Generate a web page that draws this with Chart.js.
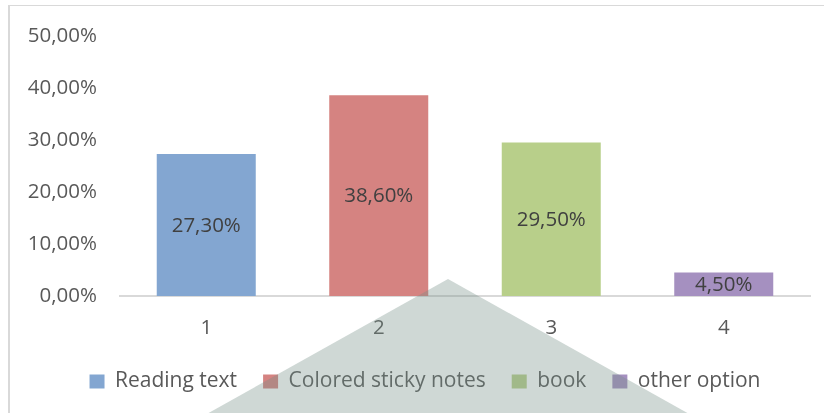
<!DOCTYPE html>
<html>
<head>
<meta charset="utf-8">
<script src="https://cdn.jsdelivr.net/npm/chart.js@4.4.1/dist/chart.umd.min.js"></script>
<style>
  html, body { margin: 0; padding: 0; background: #fff; overflow: hidden; }
  #wrap { position: relative; width: 824px; height: 413px; }
  #frame { position: absolute; left: 8px; top: 5px; width: 830px; height: 420px;
           border-left: 2px solid #d9d9d9; border-top: 1px solid #d9d9d9; box-sizing: border-box; }
  canvas { position: absolute; left: 0; top: 0; }
  #overlay { position: absolute; left: 0; top: 0; pointer-events: none; }
</style>
</head>
<body>
<div id="wrap">
  <div id="frame"></div>
  <canvas id="c" width="824" height="413"></canvas>
  <svg id="overlay" width="824" height="413"><polygon points="448,279 205,415 691,415" fill="rgba(118,144,135,0.35)"/></svg>
</div>
<script>
const categories = ['1', '2', '3', '4'];
const seriesNames = ['Reading text', 'Colored sticky notes', 'book', 'other option'];
const readingText = [27.3, null, null, null];
const stickyNotes = [null, 38.6, null, null];
const book = [null, null, 29.5, null];
const otherOption = [null, null, null, 4.5];
const yTicks = [0, 10, 20, 30, 40, 50];
const colors = ['#83a6d1', '#d58381', '#b8cf8a', '#a590c0'];

const fmt = v => v.toFixed(2).replace('.', ',') + '%';
const FONT = "'Open Sans', sans-serif";

const labelPlugin = {
  id: 'barLabels',
  afterDatasetsDraw(chart) {
    const ctx = chart.ctx;
    ctx.save();
    ctx.font = '20.5px ' + FONT;
    ctx.fillStyle = '#404040';
    ctx.textAlign = 'center';
    ctx.textBaseline = 'middle';
    chart.data.datasets.forEach((ds, i) => {
      const meta = chart.getDatasetMeta(i);
      meta.data.forEach((bar, j) => {
        const v = ds.data[j];
        if (v === null || v === undefined) return;
        const y = (bar.y + bar.base) / 2;
        ctx.fillText(fmt(v), bar.x, y + 1);
      });
    });
    ctx.restore();
  }
};

// shift the legend block so it is centred like the reference (frame-centred)
const legendShift = {
  id: 'legendShift',
  afterLayout(chart) {
    if (chart.legend) { chart.legend.left += 16; chart.legend.right += 16; }
  }
};

const datasets = [readingText, stickyNotes, book, otherOption].map((d, i) => ({
  label: seriesNames[i],
  data: d,
  backgroundColor: colors[i],
  borderWidth: 0,
  categoryPercentage: 0.574,
  barPercentage: 1
}));

new Chart(document.getElementById('c'), {
  type: 'bar',
  data: { labels: categories, datasets },
  plugins: [labelPlugin, legendShift],
  options: {
    responsive: false,
    animation: false,
    layout: { padding: { left: 8, right: 14, top: 36, bottom: 11 } },
    plugins: {
      tooltip: { enabled: false },
      legend: {
        position: 'bottom',
        labels: {
          font: { family: FONT, size: 21 },
          color: '#595959',
          boxWidth: 15,
          boxHeight: 14,
          padding: 26
        }
      }
    },
    scales: {
      x: {
        stacked: true,
        grid: { display: false, drawTicks: false },
        border: { display: true, color: '#d9d9d9', width: 2 },
        ticks: { font: { family: FONT, size: 20.5 }, color: '#595959', padding: 20 },
        afterFit: s => { s.height = 49; }
      },
      y: {
        stacked: true,
        min: 0, max: 50,
        afterBuildTicks: s => { s.ticks = yTicks.map(v => ({ value: v })); },
        grid: { display: false, drawTicks: false },
        border: { display: false },
        ticks: { font: { family: FONT, size: 20.5 }, color: '#595959', padding: 23, callback: v => fmt(v) },
        afterFit: s => { s.width = 112; }
      }
    }
  }
});
</script>
</body>
</html>
